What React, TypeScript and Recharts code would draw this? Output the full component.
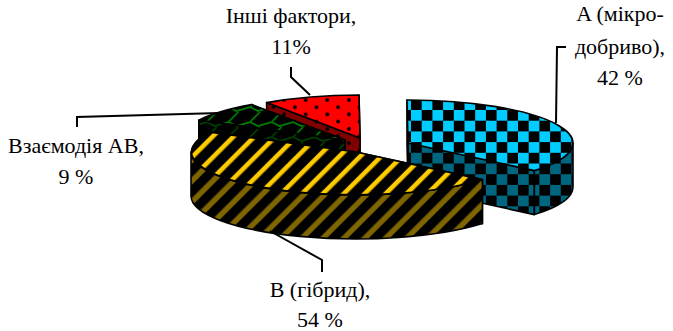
import { Pie, PieChart } from "recharts";

// slices run counter-clockwise so the draw order puts В (гібрид) on top
const categories = ["A", "Інші фактори", "Взаємодія АВ", "В"];
const shares = [42, 11, 9, 54];
const labelLines = [
  ["A (мікро-", "добриво),", "42 %"],
  ["Інші фактори,", "11%"],
  ["Взаємодія АВ,", "9 %"],
  ["В (гібрид),", "54 %"],
];

const data = categories.map((name, i) => ({ name, value: shares[i] }));

const RX = 165;
const RY = 43;
const DEPTH = 44;

const explode: Record<string, [number, number]> = {
  A: [52, -9],
  "Інші фактори": [4, -14],
  "Взаємодія АВ": [-11, -12],
  В: [0, 0],
};
const topFill: Record<string, string> = {
  A: "url(#checkTop)",
  "Інші фактори": "url(#dotsTop)",
  "Взаємодія АВ": "url(#trellisTop)",
  В: "url(#stripeTop)",
};
const sideFill: Record<string, string> = {
  A: "url(#checkSide)",
  "Інші фактори": "url(#dotsSide)",
  "Взаємодія АВ": "url(#trellisSide)",
  В: "url(#stripeSide)",
};

const callouts = [
  { line: "556,123 557,47 566,47", x: 620, y: [21, 54, 85] },
  { line: "310,95 291,77 291,67", x: 291, y: [23, 54] },
  { line: "220,113 77,117 77,127", x: 76, y: [153, 184] },
  { line: "270,231 322,260 322,272", x: 320, y: [297, 327] },
];

function Wedge(props: any) {
  const name = props.name ?? props.payload?.name;
  const [dx, dy] = explode[name];
  const cx = props.cx + dx;
  const cy = props.cy + dy;
  const a1 = props.startAngle;
  const a2 = props.endAngle;
  const pt = (a: number, dz = 0) => {
    const r = (a * Math.PI) / 180;
    return `${(cx + RX * Math.cos(r)).toFixed(1)} ${(cy + dz - RY * Math.sin(r)).toFixed(1)}`;
  };
  const radial = (a: number) =>
    `M${cx} ${cy}L${pt(a)}L${pt(a, DEPTH)}L${cx} ${cy + DEPTH}Z`;
  const walls: string[] = [];
  for (const k of [-360, 0]) {
    const lo = Math.max(a1, 180 + k);
    const hi = Math.min(a2, 360 + k);
    if (lo < hi) {
      walls.push(
        `M${pt(lo)}A${RX} ${RY} 0 0 0 ${pt(hi)}L${pt(hi, DEPTH)}A${RX} ${RY} 0 0 1 ${pt(lo, DEPTH)}Z`
      );
    }
  }
  const large = a2 - a1 > 180 ? 1 : 0;
  const top = `M${cx} ${cy}L${pt(a1)}A${RX} ${RY} 0 ${large} 0 ${pt(a2)}Z`;
  const edge = { stroke: "#000", strokeWidth: 1.6, strokeLinejoin: "round" as const };
  return (
    <g>
      <path d={radial(a1)} fill={sideFill[name]} {...edge} />
      <path d={radial(a2)} fill={sideFill[name]} {...edge} />
      {walls.map((d) => (
        <path key={d} d={d} fill={sideFill[name]} {...edge} />
      ))}
      <path d={top} fill={topFill[name]} {...edge} />
    </g>
  );
}

function Callout(props: any) {
  const c = callouts[props.index];
  return (
    <g>
      <polyline points={c.line} fill="none" stroke="#000" strokeWidth={2} />
      {labelLines[props.index].map((t, i) => (
        <text
          key={t}
          x={c.x}
          y={c.y[i]}
          textAnchor="middle"
          fill="#000"
          fontFamily="'Liberation Serif', serif"
          fontSize={22}
        >
          {t}
        </text>
      ))}
    </g>
  );
}

function Check({ id, color }: { id: string; color: string }) {
  return (
    <pattern
      id={id}
      width={21.4}
      height={21.4}
      patternUnits="userSpaceOnUse"
      patternTransform="translate(411 110)"
    >
      <rect width={21.4} height={21.4} fill="#000" />
      <rect width={10.7} height={10.7} fill={color} />
      <rect x={10.7} y={10.7} width={10.7} height={10.7} fill={color} />
    </pattern>
  );
}

function Dots({ id, color }: { id: string; color: string }) {
  return (
    <pattern
      id={id}
      width={21.6}
      height={14.4}
      patternUnits="userSpaceOnUse"
      patternTransform="translate(305.7 100)"
    >
      <rect width={21.6} height={14.4} fill={color} />
      <circle cx={0} cy={0} r={1.9} fill="#000" />
      <circle cx={21.6} cy={0} r={1.9} fill="#000" />
      <circle cx={0} cy={14.4} r={1.9} fill="#000" />
      <circle cx={21.6} cy={14.4} r={1.9} fill="#000" />
      <circle cx={10.8} cy={7.2} r={1.9} fill="#000" />
    </pattern>
  );
}

function Trellis({ id, color }: { id: string; color: string }) {
  return (
    <pattern
      id={id}
      width={21.6}
      height={15}
      patternUnits="userSpaceOnUse"
      patternTransform="translate(250 112)"
    >
      <rect width={21.6} height={15} fill="#000" />
      <path d="M0 10L10 0M0 10L8 14L21.6 10" fill="none" stroke={color} strokeWidth={1.7} />
    </pattern>
  );
}

function Stripe({ id, color, mid, band }: { id: string; color: string; mid: number; band: number }) {
  return (
    <pattern
      id={id}
      width={14.8}
      height={14.8}
      patternUnits="userSpaceOnUse"
      patternTransform="rotate(45)"
    >
      <rect width={14.8} height={14.8} fill="#000" />
      <rect x={mid - band / 2} width={band} height={14.8} fill={color} />
    </pattern>
  );
}

export default function App() {
  return (
    <div style={{ position: "absolute", left: 0, top: 0, width: 673, height: 331, background: "#fff" }}>
      <PieChart width={673} height={331} margin={{ top: 0, right: 0, bottom: 0, left: 0 }}>
        <defs>
          <Check id="checkTop" color="#00ccff" />
          <Check id="checkSide" color="#006680" />
          <Dots id="dotsTop" color="#ff0000" />
          <Dots id="dotsSide" color="#800000" />
          <Trellis id="trellisTop" color="#008000" />
          <Trellis id="trellisSide" color="#004000" />
          <Stripe id="stripeTop" color="#ffcc00" mid={10.1} band={4.6} />
          <Stripe id="stripeSide" color="#806600" mid={12} band={5.4} />
        </defs>
        <Pie
          data={data}
          dataKey="value"
          nameKey="name"
          cx={356}
          cy={152}
          outerRadius={165}
          startAngle={-40}
          endAngle={320}
          stroke="none"
          shape={Wedge}
          label={Callout}
          labelLine={false}
          isAnimationActive={false}
        />
      </PieChart>
    </div>
  );
}
